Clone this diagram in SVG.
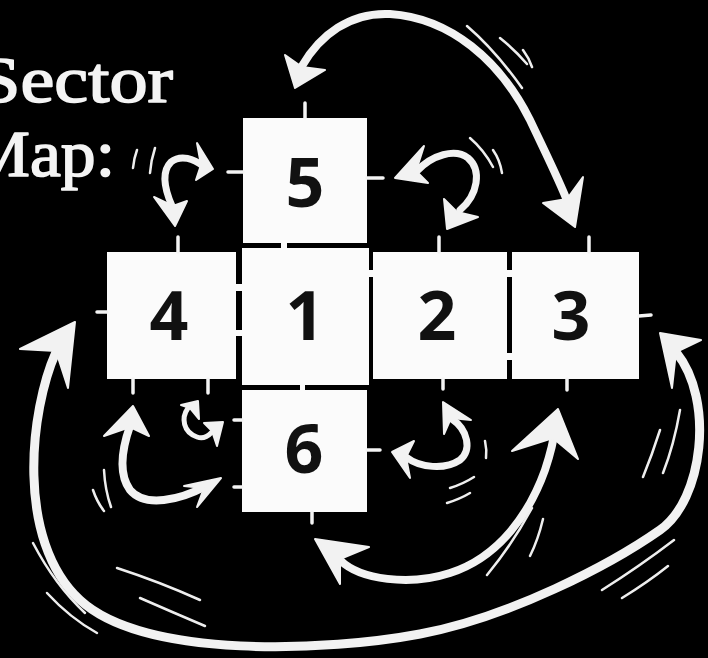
<svg xmlns="http://www.w3.org/2000/svg" width="708" height="658" viewBox="0 0 708 658">
<style>
.sq{fill:#fbfbfb}
.num{font-family:"Open Sans","DejaVu Sans",sans-serif;font-weight:700;font-size:68px;fill:#111;text-anchor:middle}
.title{font-family:"Liberation Serif","DejaVu Serif",serif;font-size:66px;fill:#f4f4f4;stroke:#f4f4f4;stroke-width:1.6;stroke-linejoin:round}
.tick{stroke:#f4f4f4;stroke-width:3.5;stroke-linecap:round;fill:none}
.bridge{fill:#fbfbfb}
.shaft{fill:none;stroke:#f2f2f2;stroke-linecap:round;stroke-linejoin:round}
.head{fill:#f2f2f2;stroke:#f2f2f2;stroke-width:2;stroke-linejoin:round}
.motion{fill:none;stroke:#eeeeee;stroke-width:2.5;stroke-linecap:round}
</style>
<rect x="0" y="0" width="708" height="658" fill="#000"/>

<g id="title">
<text class="title" x="-22" y="102" textLength="195" lengthAdjust="spacingAndGlyphs">Sector</text>
<text class="title" x="-32" y="176" textLength="147" lengthAdjust="spacingAndGlyphs">Map:</text>
</g>

<g id="node-5">
<rect class="sq" x="243" y="118" width="124" height="125"/>
<text class="num" x="305" y="207">5</text>
<path class="tick" d="M305,103 L305,118 M228,172 L243,172 M367,178 L383,178"/>
</g>
<g id="node-4">
<rect class="sq" x="107" y="252" width="129" height="127"/>
<text class="num" x="169" y="340">4</text>
<path class="tick" d="M178,237 L178,252 M97,312 L107,312 M133,379 L133,393 M208,379 L208,393"/>
</g>
<g id="node-1">
<rect class="sq" x="242" y="248" width="127" height="137"/>
<text class="num" x="305" y="340">1</text>
<rect class="bridge" x="281" y="242" width="6" height="8"/>
<rect class="bridge" x="235" y="284" width="8" height="7"/>
<rect class="bridge" x="235" y="330" width="8" height="6"/>
<rect class="bridge" x="368" y="270" width="6" height="7"/>
<rect class="bridge" x="300" y="384" width="5" height="7"/>
</g>
<g id="node-2">
<rect class="sq" x="373" y="252" width="134" height="127"/>
<text class="num" x="437" y="340">2</text>
<rect class="bridge" x="506" y="270" width="7" height="7"/>
<rect class="bridge" x="506" y="353" width="7" height="7"/>
<path class="tick" d="M439,237 L439,252 M443,379 L443,389"/>
</g>
<g id="node-3">
<rect class="sq" x="512" y="252" width="127" height="127"/>
<text class="num" x="571" y="340">3</text>
<path class="tick" d="M589,237 L589,252 M639,316 L651,315 M567,379 L567,390"/>
</g>
<g id="node-6">
<rect class="sq" x="242" y="390" width="125" height="122"/>
<text class="num" x="304" y="473">6</text>
<path class="tick" d="M234,420 L242,420 M234,487 L242,487 M367,450 L380,450 M312,512 L312,523"/>
</g>

<g id="connectors">
<!-- top arc 5 <-> 3 -->
<path class="shaft" stroke-width="8" d="M302,66 C320,35 350,12 390,14 C450,18 500,60 530,120 C548,158 560,182 568,203"/>
<path class="head" d="M295,88 L285,55 L302,67 L325,70 Z"/>
<path class="head" d="M575,227 L543,203 L567,199 L583,177 Z"/>
<path class="motion" d="M467,26 Q495,50 522,88 M500,38 Q515,50 527,64 M523,50 Q529,58 532,67"/>

<!-- 4 <-> 5 -->
<path class="shaft" stroke-width="7" d="M172,206 C165,190 161,172 171,162 C181,154 194,159 203,166"/>
<path class="head" d="M213,169 L197,143 L201,165 L196,180 Z"/>
<path class="head" d="M175,226 L154,197 L173,206 L187,201 Z"/>
<path class="motion" d="M137,150 Q134,158 133,168 M155,148 Q151,160 150,173"/>

<!-- 5 <-> 2 -->
<path class="shaft" stroke-width="7" d="M417,171 C432,155 455,148 468,158 C482,170 478,195 460,210"/>
<path class="head" d="M395,178 L424,146 L416,171 L428,183 Z"/>
<path class="head" d="M447,229 L444,199 L457,212 L478,217 Z"/>
<path class="motion" d="M470,138 Q484,150 493,167 M493,150 Q500,160 502,173"/>

<!-- 4 <-> 6 big -->
<path class="shaft" stroke-width="8" d="M130,426 C123,446 117,472 130,490 C145,508 180,500 206,486"/>
<path class="head" d="M133,406 L104,436 L130,427 L149,436 Z"/>
<path class="head" d="M221,478 L184,486 L204,488 L197,507 Z"/>
<path class="motion" d="M104,470 Q105,490 111,507 M93,490 Q97,502 104,511"/>

<!-- 4 <-> 6 small -->
<path class="shaft" stroke-width="5" d="M188,408 C181,418 183,432 197,437 C205,440 210,434 213,431"/>
<path class="head" d="M198,401 L181,405 L190,408 L199,419 Z"/>
<path class="head" d="M223,422 L204,423 L212,431 L217,446 Z"/>

<!-- 6 <-> 2 -->
<path class="shaft" stroke-width="7" d="M406,457 C420,468 445,470 460,460 C472,450 468,430 452,419"/>
<path class="head" d="M392,452 L414,441 L406,457 L410,478 Z"/>
<path class="head" d="M443,402 L444,434 L451,418 L471,420 Z"/>
<path class="motion" d="M485,441 Q487,450 486,458 M450,488 Q463,484 474,477 M447,503 Q460,499 470,493"/>

<!-- 6 <-> 3 -->
<path class="shaft" stroke-width="8" d="M340,560 C360,580 410,586 450,573 C500,557 530,512 545,470 C551,452 554,438 555,428"/>
<path class="head" d="M315,539 L369,547 L340,559 L340,584 Z"/>
<path class="head" d="M558,409 L512,451 L553,438 L578,459 Z"/>
<path class="motion" d="M487,575 Q512,545 532,508 M530,556 Q538,540 543,519"/>

<!-- outer 4 <-> 3 -->
<path class="shaft" stroke-width="9" d="M56,352 C30,410 15,540 80,600 C145,660 330,651 420,634 C510,617 610,565 660,530 C703,500 715,400 676,352"/>
<path class="head" d="M75,322 L20,349 L56,351 L68,388 Z"/>
<path class="head" d="M660,333 L701,340 L676,352 L672,388 Z"/>
<path class="motion" d="M33,543 Q55,585 85,613 M47,593 Q70,618 97,633 M117,568 Q160,582 200,600 M140,598 Q172,612 205,626"/>
<path class="motion" d="M660,430 Q652,455 643,477 M680,410 Q674,445 663,473 M674,540 Q640,566 602,590 M668,566 Q648,582 622,598"/>
</g>
</svg>
